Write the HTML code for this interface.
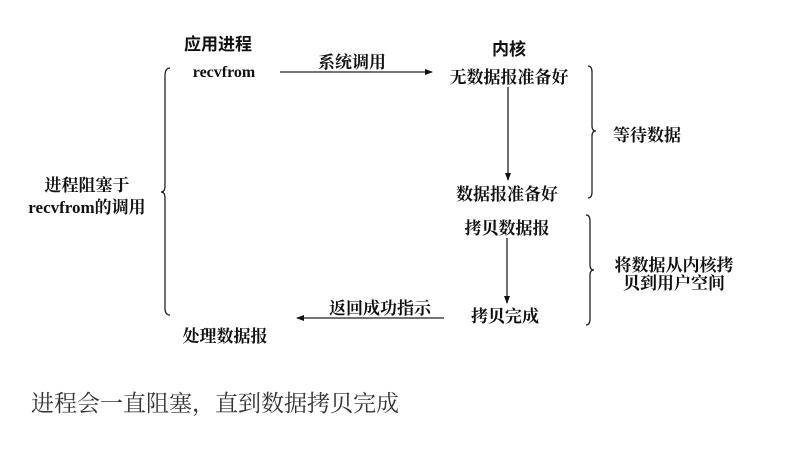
<!DOCTYPE html>
<html><head><meta charset="utf-8"><style>
html,body{margin:0;padding:0;background:#fff;width:800px;height:456px;overflow:hidden}
svg{display:block}
text{font-family:"Liberation Serif","Noto Serif CJK SC",serif;fill:#111}
.b{font-family:"Liberation Sans","Noto Sans CJK SC",sans-serif;font-weight:bold;font-size:17px}
.t{font-family:"Liberation Serif","Noto Serif CJK SC",serif;font-size:17px;font-weight:bold}
</style></head><body>
<svg width="800" height="456" viewBox="0 0 800 456" xmlns="http://www.w3.org/2000/svg">
<defs><marker id="a" markerWidth="8" markerHeight="8" refX="7" refY="4" orient="auto" markerUnits="userSpaceOnUse"><path d="M0,1 L8,4 L0,7 Z" fill="#111"/></marker></defs>
<g stroke="#222" stroke-width="1.3" fill="none">
<line x1="280" y1="72" x2="432" y2="72" marker-end="url(#a)"/>
<line x1="508" y1="87" x2="508" y2="180" marker-end="url(#a)"/>
<line x1="507" y1="238" x2="507" y2="303" marker-end="url(#a)"/>
<line x1="444" y1="318" x2="297" y2="318" marker-end="url(#a)"/>
<path d="M170,68 Q165,68 165,76 L165,186 Q165,192 161,192 Q165,192 165,198 L165,308 Q165,315 170,315"/>
<path d="M588,66 Q592,66 592,72 L592,126 Q592,131 596,131 Q592,131 592,136 L592,192 Q592,198 588,198"/>
<path d="M586,215 Q590,215 590,221 L590,265 Q590,270 594,270 Q590,270 590,275 L590,319 Q590,325 586,325"/>
</g>
<text class="b" x="218" y="50" text-anchor="middle">应用进程</text>
<text class="t" x="224" y="77" text-anchor="middle" style="font-size:16px">recvfrom</text>
<text class="t" x="352" y="68" text-anchor="middle">系统调用</text>
<text class="b" x="509" y="55" text-anchor="middle">内核</text>
<text class="t" x="509" y="83" text-anchor="middle">无数据报准备好</text>
<text class="t" x="507" y="200" text-anchor="middle">数据报准备好</text>
<text class="t" x="507" y="234" text-anchor="middle">拷贝数据报</text>
<text class="t" x="505" y="322" text-anchor="middle">拷贝完成</text>
<text class="t" x="647" y="141" text-anchor="middle">等待数据</text>
<text class="t" x="674" y="271" text-anchor="middle">将数据从内核拷</text>
<text class="t" x="674" y="289" text-anchor="middle">贝到用户空间</text>
<text class="t" x="380" y="314" text-anchor="middle">返回成功指示</text>
<text class="t" x="225" y="342" text-anchor="middle">处理数据报</text>
<text class="t" x="87" y="191" text-anchor="middle">进程阻塞于</text>
<text class="t" x="87" y="213" text-anchor="middle">recvfrom的调用</text>
<text x="31" y="411" style="font-size:23px;fill:#333">进程会一直阻塞，直到数据拷贝完成</text>
</svg>
</body></html>
